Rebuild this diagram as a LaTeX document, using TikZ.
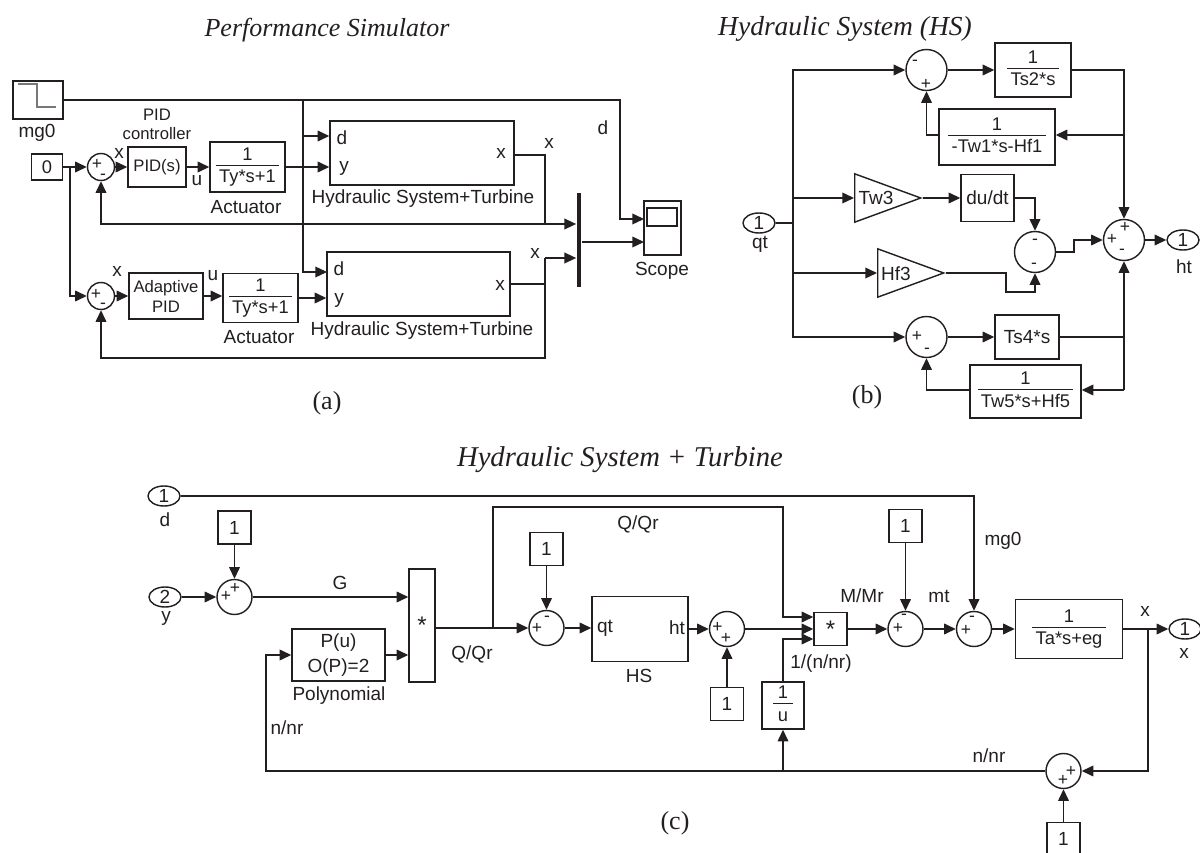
\documentclass[tikz,border=0pt]{standalone}
\usepackage{fontspec}
\usepackage{xcolor}
\setmainfont{Liberation Sans}
\newfontfamily\captionserif{Liberation Serif}
\usetikzlibrary{arrows.meta,shapes.geometric}
\definecolor{ink}{HTML}{231F20}
\definecolor{stepgray}{HTML}{77787B}
\newcommand{\fracblock}[2]{\begin{tabular}{@{\hspace{2pt}}c@{\hspace{2pt}}}#1\\[-1.5pt]\hline\rule{0pt}{10.5pt}#2\end{tabular}}
\tikzset{
    blockbox/.style={shape=rectangle,draw=ink,inner sep=0pt,font=\fontsize{11}{13.5}\selectfont,align=center},
    sumcirc/.style={shape=circle,draw=ink,inner sep=0pt},
    portoval/.style={shape=ellipse,draw=ink,inner sep=0pt,minimum width=19.2pt,minimum height=12pt,font=\fontsize{11.4}{13.7}\selectfont},
    gaintri/.style={shape=isosceles triangle,isosceles triangle stretches,draw=ink,inner sep=0pt,minimum width=29pt,minimum height=39.6pt},
    sigtext/.style={inner sep=0pt,font=\fontsize{11.4}{13.7}\selectfont},
    smalltext/.style={inner sep=0pt,font=\fontsize{10}{11.4}\selectfont,align=center},
    signmark/.style={inner sep=0pt,font=\fontsize{10.5}{12}\selectfont},
    titletext/.style={inner sep=0pt,font=\captionserif\fontsize{15.6}{18}\selectfont\itshape},
    panelmark/.style={inner sep=0pt,font=\captionserif\fontsize{15.6}{18}\selectfont}
}

\begin{document}
\begin{tikzpicture}[x=0.6pt,y=-0.6pt,line width=0.85pt,color=ink,>={Triangle[length=7pt,width=6.4pt]}]
        \useasboundingbox (0,0) rectangle (1200,853);

        % titles
        \node[titletext] (titlea) at (327,30) {Performance Simulator};
        \node[titletext,font=\captionserif\fontsize{16.5}{18}\selectfont\itshape] (titleb) at (845,29) {Hydraulic System (HS)};
        \node[titletext,font=\captionserif\fontsize{17.2}{18}\selectfont\itshape] (titlec) at (620,460) {Hydraulic System + Turbine};
        \node[panelmark] (marka) at (327,403) {(a)};
        \node[panelmark] (markb) at (867,397) {(b)};
        \node[panelmark] (markc) at (675,823) {(c)};

        % performance simulator
        \node[blockbox,minimum width=30pt,minimum height=22.8pt] (stepsrc) at (38,100) {};
        \draw[stepgray] (18,84) -- (37,84) -- (37,107) -- (56,107);
        \node[blockbox,minimum width=18.6pt,minimum height=15.6pt] (zero) at (47,167) {0};
        \node[sumcirc,minimum size=16.2pt] (sumone) at (101,167) {};
        \node[blockbox,minimum width=34.8pt,minimum height=24pt,font=\fontsize{10}{12}\selectfont] (pid) at (157,167) {PID(s)};
        \node[blockbox,minimum width=45pt,minimum height=30pt] (actone) at (247.5,167) {\fracblock{1}{Ty*s+1}};
        \node[blockbox,minimum width=110.4pt,minimum height=38.4pt] (hstone) at (422,153) {};
        \node[sumcirc,minimum size=16.2pt] (sumtwo) at (101,296) {};
        \node[blockbox,minimum width=44.4pt,minimum height=27.6pt,font=\fontsize{10}{12}\selectfont] (adaptive) at (166,296) {Adaptive\\PID};
        \node[blockbox,minimum width=45pt,minimum height=29.4pt] (acttwo) at (260.5,298) {\fracblock{1}{Ty*s+1}};
        \node[blockbox,minimum width=109.8pt,minimum height=38.4pt] (hsttwo) at (418.5,284) {};
        \node[shape=rectangle,fill=ink,inner sep=0pt,minimum width=2.6pt,minimum height=56.4pt] (muxbar) at (579,240) {};
        \node[blockbox,minimum width=22.2pt,minimum height=32.4pt] (scope) at (662.5,228) {};
        \node[blockbox,minimum width=18pt,minimum height=10.8pt] (scopescreen) at (662,217) {};

        \coordinate (zerotap) at (70,167);
        \coordinate (dtrunk) at (303,100);
        \coordinate (dportone) at (303,136);
        \coordinate (dporttwo) at (327,272);
        \coordinate (dcorner) at (620,100);
        \coordinate (scopehigh) at (644,219);
        \coordinate (scopelow) at (644,242);
        \coordinate (xoneout) at (545,155);
        \coordinate (fbonetap) at (545,224);
        \coordinate (xtwotap) at (545,284);
        \coordinate (muxtwoin) at (545,258);
        \coordinate (fbtwocorner) at (545,358);

        \path [->] (zero) edge (sumone);
        \path [->] (sumone) edge (pid);
        \path [->] (pid) edge (actone);
        \path [->] (actone.east) edge (actone.east -| hstone.west);
        \draw [->] (zerotap) |- (sumtwo.west);
        \path [->] (sumtwo) edge (adaptive);
        \path [->] (adaptive) edge (adaptive -| acttwo.west);
        \path [->] (acttwo.east) edge (acttwo.east -| hsttwo.west);
        \draw [->] (stepsrc.east) -- (dcorner) |- (scopehigh);
        \draw [->] (dtrunk) |- (dporttwo);
        \path [->] (dportone) edge (dportone -| hstone.west);
        \draw (xoneout -| hstone.east) -- (xoneout) -- (fbonetap);
        \path [->] (fbonetap) edge (fbonetap -| muxbar.west);
        \draw [->] (fbonetap) -| (sumone.south);
        \draw (hsttwo.east) -- (xtwotap) -- (muxtwoin);
        \path [->] (muxtwoin) edge (muxtwoin -| muxbar.west);
        \draw [->] (xtwotap) -- (fbtwocorner) -| (sumtwo.south);
        \path [->] (scopelow -| muxbar.east) edge (scopelow);

        \node[sigtext] (mglabel) at (37,133) {mg0};
        \node[smalltext] (pidlabel) at (157,124) {PID\\controller};
        \node[sigtext] (xlabela) at (119,153) {x};
        \node[sigtext] (ulabela) at (197,181) {u};
        \node[sigtext] (actlabela) at (246,207) {Actuator};
        \node[sigtext] (hstlabela) at (423,199) {Hydraulic System+Turbine};
        \node[sigtext] (dina) at (342,138) {d};
        \node[sigtext] (yina) at (344,168) {y};
        \node[sigtext] (xina) at (501,153) {x};
        \node[sigtext] (xouta) at (549,143) {x};
        \node[sigtext] (dscope) at (603,128) {d};
        \node[sigtext] (xlabelb) at (117,271) {x};
        \node[sigtext] (ulabelb) at (213,276) {u};
        \node[sigtext] (actlabelb) at (259,337) {Actuator};
        \node[sigtext] (hstlabelb) at (422,331) {Hydraulic System+Turbine};
        \node[sigtext] (dinb) at (339,269) {d};
        \node[sigtext] (yinb) at (339,300) {y};
        \node[sigtext] (xinb) at (500,285) {x};
        \node[sigtext] (xoutb) at (535,253) {x};
        \node[sigtext] (scopelabel) at (662,271) {Scope};
        \node[signmark] (sgaone) at (97,164) {+};
        \node[signmark] (sgatwo) at (103,177) {-};
        \node[signmark] (sgathree) at (96,294) {+};
        \node[signmark] (sgafour) at (103,306) {-};

        % hydraulic system
        \node[portoval] (qtport) at (759,223) {1};
        \node[sumcirc,minimum size=24.6pt] (suma) at (926.5,70) {};
        \node[blockbox,minimum width=45.6pt,minimum height=32.4pt] (tstwo) at (1033,70) {\fracblock{1}{Ts2*s}};
        \node[blockbox,minimum width=69.6pt,minimum height=33.6pt] (twone) at (997,137) {\fracblock{1}{-Tw1*s-Hf1}};
        \node[gaintri,anchor=lower side] (twthree) at (854,198) {};
        \node[blockbox,minimum width=31.8pt,minimum height=28.2pt,font=\fontsize{11.4}{13.7}\selectfont] (dudt) at (987.5,198) {du/dt};
        \node[sumcirc,minimum size=24.6pt] (sumc) at (1035,252) {};
        \node[gaintri,anchor=lower side] (hfthree) at (877,273) {};
        \node[sumcirc,minimum size=24.6pt] (sumd) at (1124,240) {};
        \node[portoval] (htport) at (1183,240) {1};
        \node[sumcirc,minimum size=24.6pt] (sume) at (926.5,337) {};
        \node[blockbox,minimum width=38.4pt,minimum height=26.4pt,font=\fontsize{11.4}{13.7}\selectfont] (tsfour) at (1027,337) {Ts4*s};
        \node[blockbox,minimum width=66.6pt,minimum height=31.8pt] (twfive) at (1025.5,391.5) {\fracblock{1}{Tw5*s+Hf5}};

        \coordinate (qtjoin) at (793,223);
        \coordinate (hsonetap) at (1124,135);
        \coordinate (hfbendone) at (1006,273);
        \coordinate (hfbendtwo) at (1035,292);
        \coordinate (scbendone) at (1074,252);
        \coordinate (scbendtwo) at (1074,240);
        \coordinate (bustap) at (1124,390);

        \draw (qtport.east) -- (qtjoin);
        \draw [->] (qtjoin) |- (suma.west);
        \draw [->] (qtjoin) |- (sume.west);
        \path [->] (qtjoin |- twthree.lower side) edge (twthree.lower side);
        \path [->] (qtjoin |- hfthree.lower side) edge (hfthree.lower side);
        \path [->] (suma) edge (tstwo);
        \draw [->] (tstwo.east) -| (sumd.north);
        \path [->] (hsonetap) edge (hsonetap -| twone.east);
        \draw [->] (hsonetap -| twone.west) -| (suma.south);
        \path [->] (twthree.apex) edge (twthree.apex -| dudt.west);
        \draw [->] (dudt.east) -| (sumc.north);
        \draw [->] (hfthree.apex) -- (hfbendone) |- (hfbendtwo) -- (sumc.south);
        \draw [->] (sumc.east) -- (scbendone) -- (scbendtwo) -- (sumd.west);
        \path [->] (sumd) edge (htport);
        \path [->] (sume) edge (tsfour);
        \draw (tsfour.east) -- (tsfour.east -| sumd.south);
        \draw [->] (bustap) -- (sumd.south);
        \path [->] (bustap) edge (bustap -| twfive.east);
        \draw [->] (bustap -| twfive.west) -| (sume.south);

        \node[sigtext] (twtext) at (876,198) {Tw3};
        \node[sigtext] (hftext) at (896,274) {Hf3};
        \node[sigtext] (qtlabel) at (760,244) {qt};
        \node[sigtext] (htlabel) at (1184,267) {ht};
        \node[signmark] (sgbone) at (915,63) {-};
        \node[signmark] (sgbtwo) at (926,84) {+};
        \node[signmark] (sgbthree) at (1035,242) {-};
        \node[signmark] (sgbfour) at (1034,266) {-};
        \node[signmark] (sgbfive) at (1125,227) {+};
        \node[signmark] (sgbsix) at (1112,239) {+};
        \node[signmark] (sgbseven) at (1122,252) {-};
        \node[signmark] (sgbeight) at (917,336) {+};
        \node[signmark] (sgbnine) at (927,351) {-};

        % hydraulic system + turbine
        \node[portoval] (dport) at (164,496) {1};
        \node[portoval] (yport) at (165,597) {2};
        \node[sumcirc,minimum size=21pt] (sumf) at (234.5,597) {};
        \node[blockbox,minimum size=19.8pt,font=\fontsize{11.4}{13.7}\selectfont] (constf) at (234.5,527.5) {1};
        \node[blockbox,minimum width=15.6pt,minimum height=67.8pt,font=\fontsize{14.4}{16}\selectfont] (multone) at (422,625.5) {\raisebox{-3.5pt}{*}};
        \node[blockbox,minimum width=55.8pt,minimum height=31.2pt,font=\fontsize{11.4}{14.5}\selectfont] (poly) at (338.5,655) {P(u)\\O(P)=2};
        \node[sumcirc,minimum size=21pt] (sumh) at (546.5,628) {};
        \node[blockbox,minimum size=19.8pt,font=\fontsize{11.4}{13.7}\selectfont] (consth) at (546.5,549) {1};
        \node[blockbox,minimum width=57.6pt,minimum height=39pt] (hsblock) at (640,629) {};
        \node[sumcirc,minimum size=21pt] (sumi) at (727,629) {};
        \node[blockbox,minimum size=19.8pt,font=\fontsize{11.4}{13.7}\selectfont] (consti) at (727,704) {1};
        \node[blockbox,minimum width=19.8pt,minimum height=19.8pt,font=\fontsize{14.4}{16}\selectfont] (multtwo) at (830.5,629) {\raisebox{-3.5pt}{*}};
        \node[blockbox,minimum width=25.2pt,minimum height=28.2pt] (oneu) at (783,705.5) {\fracblock{1}{\makebox[8pt]{u}}};
        \node[sumcirc,minimum size=21pt] (sumj) at (905.5,629) {};
        \node[blockbox,minimum size=19.8pt,font=\fontsize{11.4}{13.7}\selectfont] (constj) at (905.5,526) {1};
        \node[sumcirc,minimum size=21pt] (sumk) at (974,629) {};
        \node[blockbox,minimum width=64.2pt,minimum height=35.4pt] (tablock) at (1069,629) {\fracblock{1}{Ta*s+eg}};
        \node[portoval] (xport) at (1185,629) {1};
        \node[sumcirc,minimum size=21pt] (sumg) at (1063.5,771) {};
        \node[blockbox,minimum size=19.8pt,font=\fontsize{11.4}{13.7}\selectfont] (constg) at (1063.5,839) {1};

        \coordinate (qqtap) at (493,628);
        \coordinate (qqcorner) at (783,507);
        \coordinate (mqin) at (783,617);
        \coordinate (uin) at (783,639);
        \coordinate (nnrtap) at (783,771);
        \coordinate (nnrcorner) at (266,771);
        \coordinate (xtap) at (1148,629);

        \draw [->] (dport.east) -| (sumk.north);
        \path [->] (yport) edge (sumf);
        \path [->] (constf) edge (sumf);
        \path [->] (sumf.east) edge (sumf.east -| multone.west);
        \path [->] (poly.east) edge (poly.east -| multone.west);
        \draw (qqtap -| multone.east) -- (qqtap);
        \path [->] (qqtap) edge (sumh);
        \draw [->] (qqtap) |- (qqcorner) -- (mqin) -- (mqin -| multtwo.west);
        \path [->] (consth) edge (sumh);
        \path [->] (sumh.east) edge (sumh.east -| hsblock.west);
        \path [->] (hsblock) edge (sumi);
        \path [->] (consti) edge (sumi);
        \path [->] (sumi) edge (multtwo);
        \draw [->] (oneu.north) -- (uin) -- (uin -| multtwo.west);
        \path [->] (multtwo) edge (sumj);
        \path [->] (constj) edge (sumj);
        \path [->] (sumj) edge (sumk);
        \path [->] (sumk) edge (tablock);
        \path [->] (tablock) edge (xport);
        \draw [->] (xtap) |- (sumg.east);
        \draw [->] (sumg.west) -- (nnrcorner) |- (poly.west);
        \path [->] (nnrtap) edge (oneu.south);
        \path [->] (constg) edge (sumg);

        \node[sigtext] (dlabel) at (165,520) {d};
        \node[sigtext] (ylabel) at (166,618) {y};
        \node[sigtext] (glabel) at (340,583) {G};
        \node[sigtext] (polylabel) at (339,696) {Polynomial};
        \node[sigtext] (nnrleft) at (287,728) {n/nr};
        \node[sigtext] (qqlower) at (472,654) {Q/Qr};
        \node[sigtext] (qqupper) at (638,524) {Q/Qr};
        \node[sigtext] (qtin) at (605,628) {qt};
        \node[sigtext] (htin) at (677,628) {ht};
        \node[sigtext] (hslabel) at (639,676) {HS};
        \node[sigtext] (inverselabel) at (821,664) {1/(n/nr)};
        \node[sigtext] (mmlabel) at (862,596) {M/Mr};
        \node[sigtext] (mtlabel) at (939,596) {mt};
        \node[sigtext] (mglabeltwo) at (1003,541) {mg0};
        \node[sigtext] (xlabelc) at (1145,611) {x};
        \node[sigtext] (xportlabel) at (1184,653) {x};
        \node[sigtext] (nnrright) at (989,756) {n/nr};
        \node[signmark] (sgcone) at (226,596) {+};
        \node[signmark] (sgctwo) at (235,588) {+};
        \node[signmark] (sgcthree) at (537,628) {+};
        \node[signmark] (sgcfour) at (547,619) {-};
        \node[signmark] (sgcfive) at (717.5,627) {+};
        \node[signmark] (sgcsix) at (726,638) {+};
        \node[signmark] (sgcseven) at (904,617) {-};
        \node[signmark] (sgceight) at (898,628) {+};
        \node[signmark] (sgcnine) at (972,619) {-};
        \node[signmark] (sgcten) at (966,630) {+};
        \node[signmark] (sgceleven) at (1071,771) {+};
        \node[signmark] (sgctwelve) at (1063,780) {+};
    \end{tikzpicture}
\end{document}
